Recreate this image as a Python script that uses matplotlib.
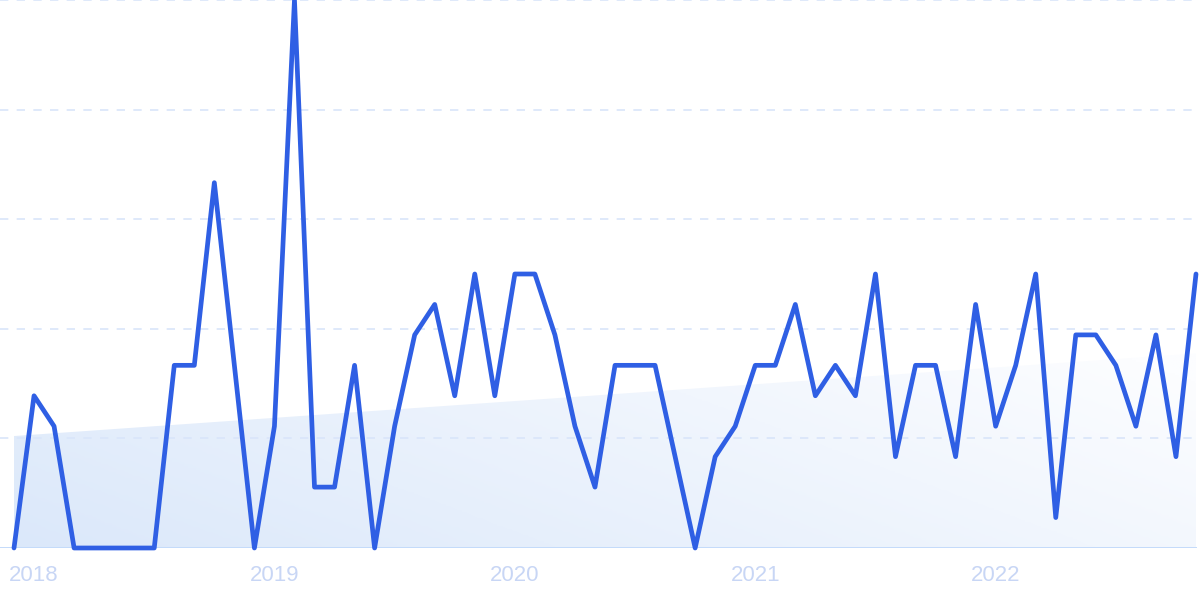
import numpy as np
import matplotlib.pyplot as plt
from matplotlib.patches import Polygon
from matplotlib.colors import LinearSegmentedColormap

# monthly values, Jan 2018 -> Dec 2022
months = np.arange(60)
values = [0, 5, 4, 0, 0, 0, 0, 0, 6, 6,
          12, 6, 0, 4, 18, 2, 2, 6, 0, 4,
          7, 8, 5, 9, 5, 9, 9, 7, 4, 2,
          6, 6, 6, 3, 0, 3, 4, 6, 6, 8,
          5, 6, 5, 9, 3, 6, 6, 3, 8, 4,
          6, 9, 1, 7, 7, 6, 4, 7, 3, 9]
year_labels = ["2018", "2019", "2020", "2021", "2022"]
year_pos = [1, 13, 25, 37, 49]

ymax = 18
line_col = "#2f5fe4"
grid_col = "#d9e5fa"
text_col = "#c8d6f5"

fig = plt.figure(figsize=(12, 6), dpi=100)
ax = fig.add_axes([0, 52 / 600, 1, 548 / 600])
ax.set_xlim(-14 / 20.034, 59 + 4 / 20.034)
ax.set_ylim(0, ymax)
ax.axis("off")

# trend area with gradient
coef = np.polyfit(months, values, 1)
trend = np.polyval(coef, months)
verts = [(0, 0)] + list(zip(months, trend)) + [(59, 0)]
poly = Polygon(verts, closed=True, facecolor="none", edgecolor="none")
ax.add_patch(poly)
gx, gy = np.meshgrid(np.linspace(0, 1, 300), np.linspace(0, 1, 100))
grad = 0.8 * gx + 0.35 * (1 - gy)
cmap = LinearSegmentedColormap.from_list("g", ["#dbe8fa", "#fcfdff"])
im = ax.imshow(grad, cmap=cmap, extent=[0, 59, 0, trend.max()], origin="upper",
               aspect="auto", vmin=0, vmax=1.1, zorder=1)
im.set_clip_path(poly)

# grid lines
for g in np.linspace(0, ymax, 6)[1:]:
    ax.plot([ax.get_xlim()[0], 59], [g, g], color=grid_col, lw=1.2,
            dashes=(5, 5), zorder=1.5, clip_on=False)
ax.plot([ax.get_xlim()[0], 59], [0, 0], color="#c4dbfa", lw=1.4, zorder=2)

ax.plot(months, values, color=line_col, lw=3.4, solid_joinstyle="round",
        solid_capstyle="round", zorder=3, clip_on=False)

for p, lab in zip(year_pos, year_labels):
    ax.text(p, -0.9, lab, ha="center", va="center", fontsize=16,
            color=text_col, family="Liberation Sans")

fig.savefig("out.png", dpi=100)
